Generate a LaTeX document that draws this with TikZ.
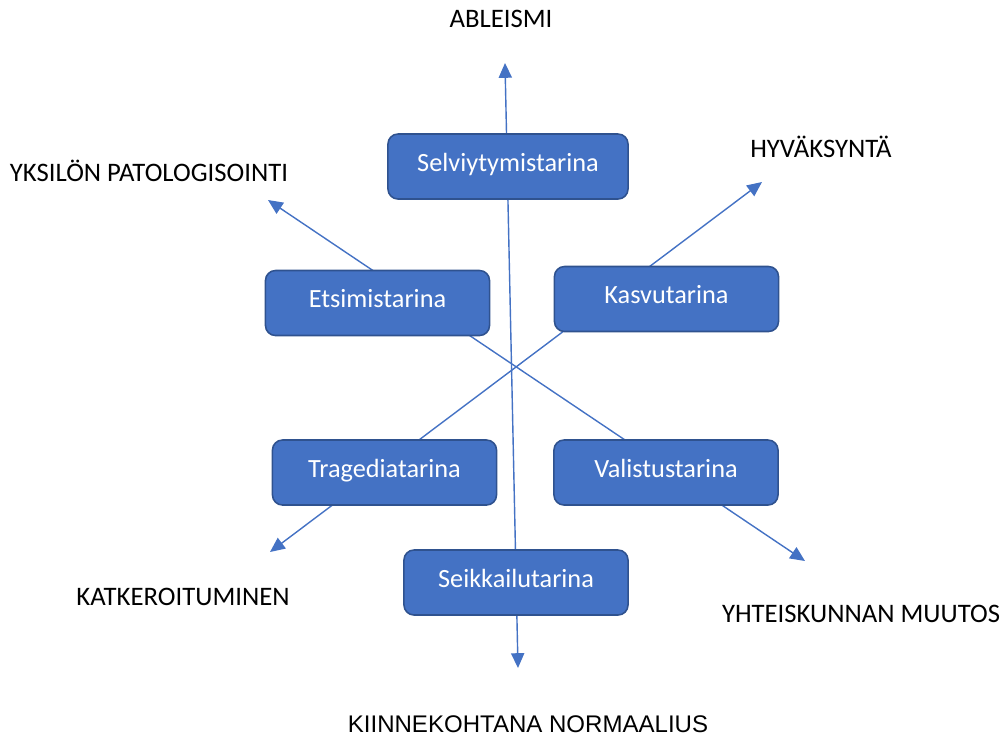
\documentclass[tikz,border=0pt]{standalone}
\usepackage{fontspec}
\setmainfont{Carlito}
\newfontfamily\arialfont{Liberation Sans}
\usepackage{tikz}
\usetikzlibrary{arrows.meta}
\definecolor{officeblue}{HTML}{4472C4}
\definecolor{officeedge}{HTML}{2F528F}
\tikzset{
	storybox/.style={draw=officeedge, line width=1.1pt, fill=officeblue, rounded corners=0.25cm,
		minimum width=5.6cm, minimum height=1.625cm, text=white, inner sep=0pt,
		font=\fontsize{18.7}{22}\selectfont, text height=0.75em, text depth=0.1em},
	endlabel/.style={anchor=base, inner sep=0pt, font=\fontsize{19}{22}\selectfont},
	axisline/.style={draw=officeblue, line width=1pt,
		{Triangle[length=0.37cm,width=0.33cm]}-{Triangle[length=0.37cm,width=0.33cm]}}
}

\begin{document}
\begin{tikzpicture}[x=0.025cm, y=-0.025cm]
			%%%%% START %%%%%
			
			\useasboundingbox (0, 0) rectangle (1002, 738);
			
			% arrow tips
			\coordinate (tipup) at (505, 63);
			\coordinate (tipdown) at (518, 668);
			\coordinate (tipnw) at (268, 200);
			\coordinate (tipse) at (805, 561);
			\coordinate (tipne) at (762, 182);
			\coordinate (tipsw) at (270, 552);
			
			\draw[axisline] (tipdown) -- (tipup);
			\draw[axisline] (tipnw) -- (tipse);
			\draw[axisline] (tipsw) -- (tipne);
			
			% stories
			\node[storybox, minimum width=6cm] (selviytymis) at (508, 166.5) {Selviytymistarina};
			\node[storybox] (etsimis) at (377.5, 303) {Etsimistarina};
			\node[storybox] (kasvu) at (666.5, 299) {Kasvutarina};
			\node[storybox] (tragedia) at (384.5, 472.5) {Tragediatarina};
			\node[storybox] (valistus) at (666, 472.5) {Valistustarina};
			\node[storybox] (seikkailu) at (516, 582.5) {Seikkailutarina};
			
			% ends of the axes
			\node[endlabel] (ableismi) at (501, 27) {ABLEISMI};
			\node[endlabel] (patologisointi) at (149, 181) {YKSILÖN PATOLOGISOINTI};
			\node[endlabel] (hyvaksynta) at (821, 157) {HYVÄKSYNTÄ};
			\node[endlabel] (katkeroituminen) at (183, 605) {KATKEROITUMINEN};
			\node[endlabel] (muutos) at (861, 622) {YHTEISKUNNAN MUUTOS};
			\node[endlabel, font=\arialfont\fontsize{17.1}{20}\selectfont] (normaalius) at (528, 732) {KIINNEKOHTANA NORMAALIUS};
			
			%%%%% END %%%%%
\end{tikzpicture}
\end{document}
